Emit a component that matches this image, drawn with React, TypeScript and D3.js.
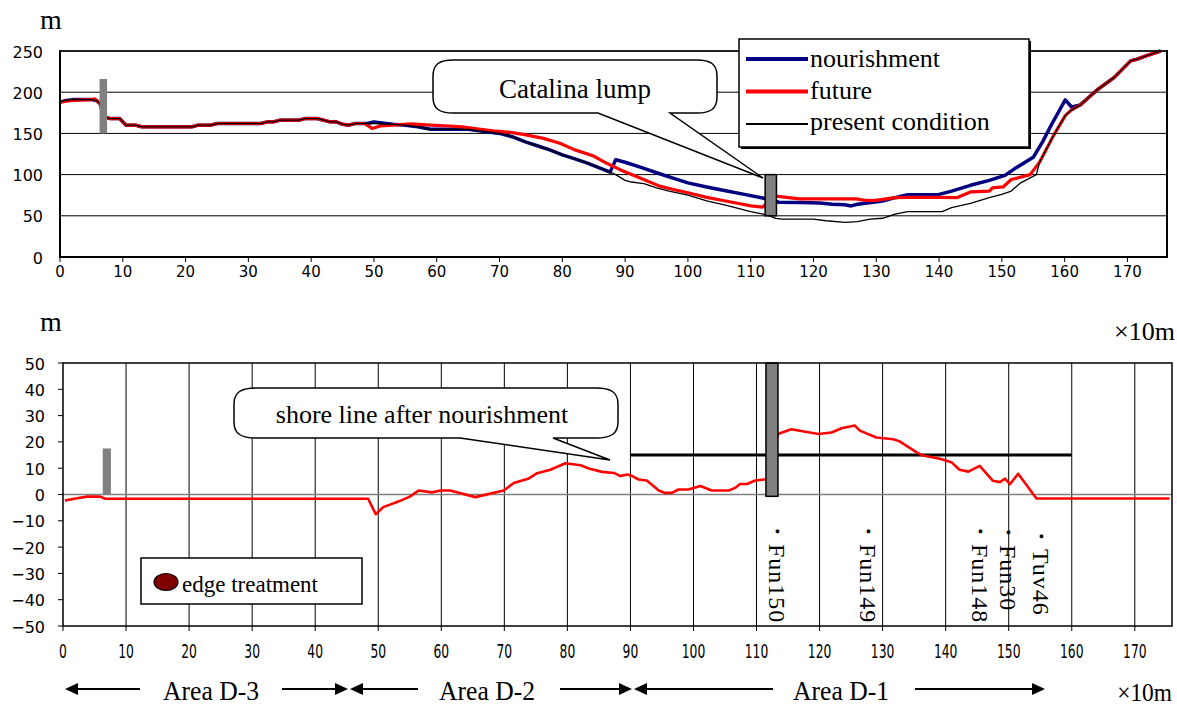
import React from "react";
import * as d3 from "d3";

const W = 1177;
const H = 706;

// ---------- data ----------
const xTickValues = [0, 10, 20, 30, 40, 50, 60, 70, 80, 90, 100, 110, 120, 130, 140, 150, 160, 170];
const topYTicks = [0, 50, 100, 150, 200, 250];
const bottomYTicks = [-50, -40, -30, -20, -10, 0, 10, 20, 30, 40, 50];

const nourishment: [number, number][] = [
  [0, 188], [1, 190], [2, 191], [5, 191], [5.8, 190], [6.4, 186], [7, 170], [8, 168], [9.5, 168], [10.5, 160],
  [12, 160], [13, 158], [21, 158], [22, 160], [24, 160], [25, 162], [32, 162], [33, 164], [34, 164], [35, 166],
  [38, 166], [39, 168], [41, 168], [42, 166], [43, 164], [44, 164], [45, 161], [46, 160], [47, 162], [49, 162],
  [50, 164], [51, 163], [53, 161], [55, 160], [57, 158], [59, 155], [62, 155], [65, 155], [67, 153], [70, 150],
  [72, 146], [74, 140], [76, 135], [78, 130], [80, 124], [82, 119], [84, 114], [86, 108], [87.6, 103], [88.5, 118],
  [90, 115], [92.4, 109], [95.5, 101], [97.5, 96], [100, 90], [103, 85], [106, 80.5], [109, 76], [111.9, 71.6],
  [114.5, 66.5], [118, 66], [121, 65.5], [123, 64], [125, 63.5], [126, 62], [127, 64], [129.5, 66.5], [131, 68],
  [133, 72], [135, 75.6], [140, 76], [142, 80], [145, 87], [148, 93], [150.5, 99], [152, 107], [155, 121],
  [156.5, 140], [158, 162], [160.1, 190.6], [161.1, 182], [162.5, 184.6], [165.2, 203], [167.9, 218], [170.5, 238],
  [171.5, 240], [173.2, 244.7], [175.3, 250],
];

const future: [number, number][] = [
  [0, 188], [1, 189], [2, 190], [5, 191], [5.5, 192], [6.4, 186], [7, 170], [8, 168], [9.5, 168], [10.5, 160],
  [12, 160], [13, 158], [21, 158], [22, 160], [24, 160], [25, 162], [32, 162], [33, 164], [34, 164], [35, 166],
  [38, 166], [39, 168], [41, 168], [42, 166], [43, 164], [44, 164], [45, 161], [46, 160], [47, 162], [48.5, 162],
  [49.7, 156], [51, 159], [53, 160], [56, 161.5], [59, 160], [62, 159], [64, 158], [67, 155], [69, 153],
  [72, 151], [74, 148.5], [77, 144], [79.6, 138], [82, 130], [85, 122.5], [87, 114], [89.2, 106], [92, 97],
  [95.5, 86], [97.7, 82], [100, 78], [103, 72.4], [106, 68], [108.3, 64.6], [110, 62], [111.9, 60.6], [114, 74],
  [115, 73], [117.8, 70.5], [122, 70.5], [126.8, 70.5], [128, 69], [129.5, 68.5], [131, 70], [133, 72],
  [135, 72.4], [140, 72.4], [142.8, 72], [145, 79], [148, 80], [148.5, 84], [150.2, 85], [151.5, 94],
  [154.5, 100], [156, 115], [158.2, 147], [160.1, 171.5], [161, 178], [162.5, 184.6], [165.2, 203], [167.9, 218],
  [170.5, 238], [171.5, 240], [173.2, 244.7], [175.3, 250],
];

const presentCondition: [number, number][] = [
  [0, 189], [1, 190], [2, 191], [5, 191], [5.8, 190], [6.4, 186], [7, 170], [8, 168], [9.5, 168], [10.5, 160],
  [12, 160], [13, 158], [21, 158], [22, 160], [24, 160], [25, 162], [32, 162], [33, 164], [34, 164], [35, 166],
  [38, 166], [39, 168], [41, 168], [42, 166], [43, 164], [44, 164], [45, 161], [46, 160], [47, 162], [50, 162],
  [53, 161], [55, 160], [57, 158], [59, 155], [62, 155], [65, 155], [67, 153], [70, 150], [72, 146], [74, 140],
  [76, 135], [78, 130], [80, 124], [82, 119], [84, 114], [86, 108], [87.6, 103], [88.5, 100], [90, 93], [91, 91],
  [93, 89], [95, 84], [97, 80], [100, 75], [103, 68], [106, 63], [108, 59], [110, 55], [112, 52], [113, 50],
  [114, 47], [115, 46], [120, 46], [122, 44], [125, 42], [127, 43], [129, 46], [131, 47], [133, 52], [135, 55],
  [140.5, 55], [142, 60], [145, 65], [148, 72], [150, 76], [151.5, 80], [153, 90], [155.5, 100], [156, 115],
  [158.2, 147], [160.1, 171.5], [161, 178], [162.5, 184.6], [165.2, 203], [167.9, 218], [170.5, 238],
  [171.5, 240], [173.2, 244.7], [175.3, 250],
];

const shoreChange: [number, number][] = [
  [0.3, -2.3], [2, -1.5], [3.8, -0.8], [5.9, -0.8], [6.7, -1.6], [48.4, -1.6], [49.6, -7.5], [50.8, -4.8],
  [53.4, -2.5], [55, -0.8], [56.4, 1.5], [58.5, 0.8], [59.9, 1.5], [61.4, 1.5], [65.4, -1], [69.9, 1.5],
  [71.5, 4.4], [73.9, 6.1], [75.2, 8.1], [77.3, 9.4], [79.7, 11.9], [82.1, 11.1], [83.4, 9.9], [85.5, 8.6],
  [87.4, 8.2], [88.4, 7], [89.5, 7.6], [90.3, 7], [91.3, 5.7], [92.6, 5.3], [94.5, 1.5], [95.5, 0.6],
  [96.6, 0.6], [97.6, 1.9], [99.2, 1.9], [101.1, 3.2], [102.9, 1.5], [105.6, 1.5], [106.6, 2.5], [107.4, 4],
  [108.5, 4], [109.8, 5.3], [111.6, 5.8], [113.4, 23], [115.5, 24.8], [119.8, 23], [121.9, 23.6], [123.5, 25.2],
  [125.6, 26.2], [126.4, 24.3], [129, 21.7], [131.7, 21], [132.7, 20.2], [135.4, 16], [136.4, 14.8],
  [139.1, 13.6], [140.9, 12.3], [142.2, 9.4], [143.6, 8.7], [145.4, 10.9], [147.5, 5.2], [148.6, 4.7],
  [149.4, 6], [150.2, 3.9], [151.5, 7.9], [154.4, -1.5], [175.5, -1.5],
];

const shoreLineAfter: [number, number][] = [[90, 15], [160, 15]];

const legendLabels = ["nourishment", "future", "present condition"];
const legendColors = ["#000080", "#ff0000", "#000000"];
const legendWidths = [4, 4, 2];

const siteLabels = ["・Fun150", "・Fun149", "・Fun148", "・Fun30", "・Tuv46"];
const siteX = [113.2, 127.7, 145.4, 149.9, 155.1];
const siteStartY = [519, 519, 519, 520, 524];

const areaLabels = ["Area D-3", "Area D-2", "Area D-1"];

// markers (x range, y range)
const topWallSmall = { x0: 6.3, x1: 7.5, y0: 150, y1: 216 };
const topLump = { x0: 112.3, x1: 114.1, y0: 50, y1: 100 };
const botWallSmall = { x0: 6.3, x1: 7.6, y0: 0, y1: 17.5 };
const botLump = { x0: 111.5, x1: 113.4, y0: -0.7, y1: 50 };

// ---------- layout ----------
const xTop = d3.scaleLinear().domain([0, 176.3]).range([60, 1167]);
const yTop = d3.scaleLinear().domain([0, 250]).range([257, 51]);
const xBot = d3.scaleLinear().domain([0, 175.9]).range([63, 1172]);
const yBot = d3.scaleLinear().domain([-50, 50]).range([626, 363]);

const serif = "Liberation Serif";
const sans = "DejaVu Sans";

function bubblePath(x0: number, y0: number, x1: number, y1: number, rx: number, ry: number,
  p1: number, p2: number, tx: number, ty: number) {
  return `M${x0 + rx},${y0} L${x1 - rx},${y0} C${x1 - rx / 3},${y0} ${x1},${y0 + ry / 4} ${x1},${y0 + ry}` +
    ` L${x1},${y1 - ry} C${x1},${y1 - ry / 4} ${x1 - rx / 3},${y1} ${x1 - rx},${y1}` +
    ` L${p2},${y1} L${tx},${ty} L${p1},${y1} L${x0 + rx},${y1}` +
    ` C${x0 + rx / 3},${y1} ${x0},${y1 - ry / 4} ${x0},${y1 - ry} L${x0},${y0 + ry}` +
    ` C${x0},${y0 + ry / 4} ${x0 + rx / 3},${y0} ${x0 + rx},${y0} Z`;
}

function Arrow({ x1, x2, y }: { x1: number; x2: number; y: number }) {
  const dir = x2 > x1 ? 1 : -1;
  const hl = 13;
  const hw = 6;
  return (
    <g>
      <line x1={x1} y1={y} x2={x2 - dir * hl + dir * 1} y2={y} stroke="#000" strokeWidth={2} />
      <path d={`M${x2},${y} L${x2 - dir * hl},${y - hw} L${x2 - dir * hl},${y + hw} Z`} fill="#000" />
    </g>
  );
}

export default function App() {
  const lineTop = d3.line<[number, number]>().x((d) => xTop(d[0])).y((d) => yTop(d[1]));
  const lineBot = d3.line<[number, number]>().x((d) => xBot(d[0])).y((d) => yBot(d[1]));

  return (
    <svg width={W} height={H} style={{ display: "block", position: "absolute", left: 0, top: 0, background: "#fff" }}>
      <rect x={0} y={0} width={W} height={H} fill="#fff" />

      {/* ================= TOP CHART ================= */}
      <text x={40} y={29} fontFamily={serif} fontSize={28}>m</text>
      {topYTicks.filter((t) => t > 0).map((t) => (
        <line key={t} x1={xTop(0)} x2={xTop(176.3)} y1={yTop(t)} y2={yTop(t)} stroke="#000" strokeWidth={1} />
      ))}
      {topYTicks.map((t) => (
        <text key={t} x={43} y={yTop(t) + 1} fontFamily={sans} fontSize={16} textAnchor="end" dominantBaseline="central">{t}</text>
      ))}
      {xTickValues.map((t) => (
        <g key={t}>
          <line x1={xTop(t)} x2={xTop(t)} y1={257} y2={262} stroke="#000" strokeWidth={1} />
          <text x={xTop(t)} y={277} fontFamily={sans} fontSize={15} textAnchor="middle">{t}</text>
        </g>
      ))}

      {/* Catalina lump callout */}
      <path d={bubblePath(433, 60, 717, 113, 20, 16, 598, 670, 763, 178)} fill="#fff" stroke="#000" strokeWidth={1.5} />
      <text x={575} y={98} fontFamily={serif} fontSize={27} textAnchor="middle">Catalina lump</text>

      {/* series */}
      <path d={lineTop(nourishment) || ""} fill="none" stroke="#000080" strokeWidth={3.5} strokeLinejoin="round" />
      <path d={lineTop(future) || ""} fill="none" stroke="#ff0000" strokeWidth={3.2} strokeLinejoin="round" />
      <path d={lineTop(presentCondition) || ""} fill="none" stroke="#000" strokeWidth={1.3} strokeLinejoin="round" />

      {/* markers */}
      <rect x={xTop(topWallSmall.x0)} y={yTop(topWallSmall.y1)} width={xTop(topWallSmall.x1) - xTop(topWallSmall.x0)}
        height={yTop(topWallSmall.y0) - yTop(topWallSmall.y1)} fill="#808080" />
      <rect x={xTop(topLump.x0)} y={yTop(topLump.y1)} width={xTop(topLump.x1) - xTop(topLump.x0)}
        height={yTop(topLump.y0) - yTop(topLump.y1)} fill="#808080" stroke="#000" strokeWidth={1.5} />

      {/* axes frame */}
      <line x1={60} x2={60} y1={50} y2={258} stroke="#000" strokeWidth={2} />
      <line x1={59} x2={1168} y1={257} y2={257} stroke="#000" strokeWidth={2} />
      <line x1={1167} x2={1167} y1={50} y2={258} stroke="#000" strokeWidth={2} />
      <line x1={60} x2={1167} y1={51} y2={51} stroke="#000" strokeWidth={1.5} />

      {/* legend */}
      <rect x={741} y={41} width={290} height={108} fill="#000" />
      <rect x={739} y={39} width={290} height={108} fill="#fff" stroke="#000" strokeWidth={1.5} />
      {legendLabels.map((l, i) => (
        <g key={l}>
          <line x1={746} x2={808} y1={59 + i * 32.5} y2={59 + i * 32.5} stroke={legendColors[i]} strokeWidth={legendWidths[i]} />
          <text x={810} y={67 + i * 31.5} fontFamily={serif} fontSize={26}>{l}</text>
        </g>
      ))}

      {/* ================= BOTTOM CHART ================= */}
      <text x={40} y={331} fontFamily={serif} fontSize={28}>m</text>
      <text x={1175} y={340} fontFamily={serif} fontSize={26} textAnchor="end">×10m</text>

      {xTickValues.filter((t) => t > 0).map((t) => (
        <line key={t} x1={xBot(t)} x2={xBot(t)} y1={363} y2={626} stroke="#000" strokeWidth={1} />
      ))}
      <line x1={63} x2={1172} y1={yBot(0)} y2={yBot(0)} stroke="#808080" strokeWidth={1.5} />
      {bottomYTicks.map((t) => (
        <g key={t}>
          <line x1={58} x2={63} y1={yBot(t)} y2={yBot(t)} stroke="#000" strokeWidth={1} />
          <text x={45} y={yBot(t) + 1} fontFamily={sans} fontSize={16} textAnchor="end" dominantBaseline="central">
            {t < 0 ? `−${Math.abs(t)}` : `${t}`}
          </text>
        </g>
      ))}
      {xTickValues.map((t) => (
        <g key={t}>
          <line x1={xBot(t)} x2={xBot(t)} y1={626} y2={631} stroke="#000" strokeWidth={1} />
          <text transform={`translate(${xBot(t)},658) scale(0.65,1)`} fontFamily={sans} fontSize={19} textAnchor="middle">{t}</text>
        </g>
      ))}

      {/* shore line callout */}
      <path d={bubblePath(234, 388, 618, 438, 22, 16, 460, 553, 610, 460)} fill="#fff" stroke="#000" strokeWidth={1.5} />
      <text x={422} y={423} fontFamily={serif} fontSize={26} textAnchor="middle">shore line after nourishment</text>

      {/* edge treatment legend */}
      <rect x={141} y={558} width={221} height={46} fill="#fff" stroke="#000" strokeWidth={1.5} />
      <ellipse cx={166} cy={582} rx={12} ry={8.5} fill="#800000" stroke="#000" strokeWidth={1.2} />
      <text x={182} y={592} fontFamily={serif} fontSize={23}>edge treatment</text>

      {/* series */}
      <path d={lineBot(shoreLineAfter) || ""} fill="none" stroke="#000" strokeWidth={3} />
      <path d={lineBot(shoreChange) || ""} fill="none" stroke="#ff0000" strokeWidth={2.6} strokeLinejoin="round" />

      <rect x={xBot(botWallSmall.x0)} y={yBot(botWallSmall.y1)} width={xBot(botWallSmall.x1) - xBot(botWallSmall.x0)}
        height={yBot(botWallSmall.y0) - yBot(botWallSmall.y1)} fill="#808080" />
      <rect x={xBot(botLump.x0)} y={yBot(botLump.y1)} width={xBot(botLump.x1) - xBot(botLump.x0)}
        height={yBot(botLump.y0) - yBot(botLump.y1)} fill="#808080" stroke="#000" strokeWidth={1.5} />

      <rect x={63} y={363} width={1109} height={263} fill="none" stroke="#000" strokeWidth={1.5} />

      {/* site labels (vertical) */}
      {siteLabels.map((s, i) => (
        <text key={s} transform={`translate(${xBot(siteX[i])},${siteStartY[i]}) rotate(90)`} fontFamily={serif}
          fontSize={24} letterSpacing={1} dominantBaseline="central">{s}</text>
      ))}

      {/* area arrows */}
      <Arrow x1={140} x2={65} y={689} />
      <Arrow x1={282} x2={348} y={689} />
      <Arrow x1={418} x2={350} y={689} />
      <Arrow x1={560} x2={632} y={689} />
      <Arrow x1={773} x2={634} y={689} />
      <Arrow x1={915} x2={1045} y={689} />
      {areaLabels.map((a, i) => (
        <text key={a} transform={`translate(${[211, 487, 841][i]},700) scale(0.95,1)`} fontFamily={serif} fontSize={27} textAnchor="middle">{a}</text>
      ))}
      <text transform="translate(1172,701) scale(0.9,1)" fontFamily={serif} fontSize={26} textAnchor="end">×10m</text>
    </svg>
  );
}
